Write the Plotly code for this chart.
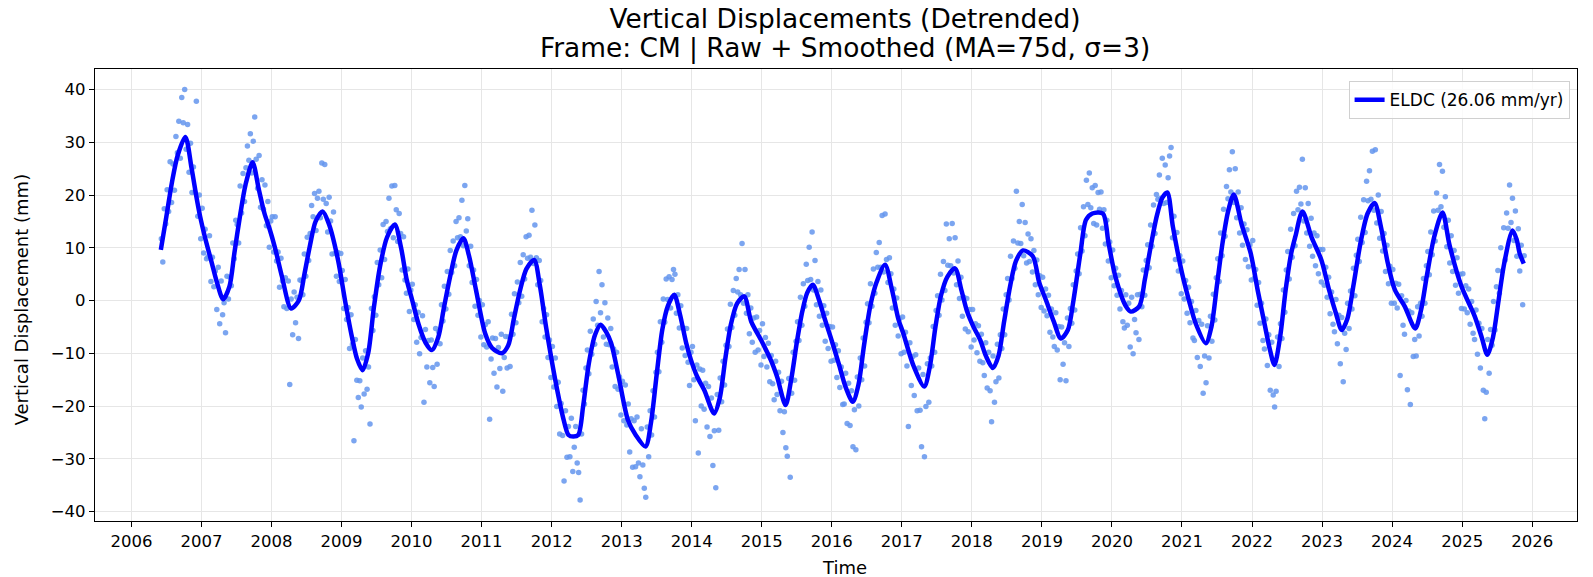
import plotly.graph_objects as go

# ---------------- data ----------------
title_line1 = "Vertical Displacements (Detrended)"
title_line2 = "Frame: CM | Raw + Smoothed (MA=75d, σ=3)"
x_title = "Time"
y_title = "Vertical Displacement (mm)"
series_name = "ELDC (26.06 mm/yr)"
year_ticks = list(range(2006, 2027))
mm_ticks = [-40, -30, -20, -10, 0, 10, 20, 30, 40]

# smoothed curve (decimal year, mm)
smooth_t = [
    2006.42, 2006.50, 2006.58, 2006.66, 2006.77, 2006.86, 2006.93, 2006.98,
    2007.05, 2007.15, 2007.22, 2007.31, 2007.40, 2007.47, 2007.55, 2007.63, 2007.73, 2007.82, 2007.90, 2007.97,
    2008.05, 2008.15, 2008.28, 2008.39, 2008.47, 2008.55, 2008.63, 2008.73, 2008.82, 2008.95,
    2009.05, 2009.15, 2009.22, 2009.30, 2009.38, 2009.46, 2009.55, 2009.65, 2009.76, 2009.85, 2009.93,
    2010.01, 2010.10, 2010.20, 2010.29, 2010.38, 2010.46, 2010.55, 2010.64, 2010.74, 2010.82, 2010.92,
    2011.05, 2011.15, 2011.29, 2011.38, 2011.46, 2011.55, 2011.64, 2011.75, 2011.83, 2011.92,
    2012.00, 2012.08, 2012.16, 2012.24, 2012.31, 2012.38, 2012.45, 2012.53, 2012.62, 2012.70, 2012.78, 2012.85, 2012.95,
    2013.09, 2013.20, 2013.34, 2013.42, 2013.50, 2013.58, 2013.66, 2013.75, 2013.83, 2013.92, 2013.99,
    2014.08, 2014.18, 2014.32, 2014.40, 2014.48, 2014.56, 2014.65, 2014.75, 2014.85, 2014.99,
    2015.13, 2015.22, 2015.34, 2015.42, 2015.50, 2015.58, 2015.65, 2015.73, 2015.82, 2015.90, 2015.98,
    2016.10, 2016.20, 2016.30, 2016.38, 2016.46, 2016.55, 2016.64, 2016.76, 2016.86, 2016.95,
    2017.02, 2017.17, 2017.32, 2017.40, 2017.48, 2017.56, 2017.65, 2017.76, 2017.85, 2017.93,
    2018.02, 2018.12, 2018.20, 2018.30, 2018.38, 2018.46, 2018.55, 2018.63, 2018.73, 2018.87, 2018.96,
    2019.06, 2019.17, 2019.27, 2019.37, 2019.45, 2019.55, 2019.63, 2019.72, 2019.87, 2019.95,
    2020.05, 2020.20, 2020.27, 2020.39, 2020.47, 2020.55, 2020.64, 2020.72, 2020.79, 2020.87,
    2021.00, 2021.10, 2021.20, 2021.34, 2021.42, 2021.50, 2021.58, 2021.66, 2021.74, 2021.85, 2021.98,
    2022.08, 2022.18, 2022.25, 2022.32, 2022.40, 2022.48, 2022.56, 2022.62, 2022.72, 2022.85, 2022.99,
    2023.10, 2023.20, 2023.28, 2023.36, 2023.45, 2023.55, 2023.65, 2023.75, 2023.84, 2023.94,
    2024.04, 2024.18, 2024.33, 2024.41, 2024.50, 2024.60, 2024.72, 2024.82, 2024.99,
    2025.18, 2025.28, 2025.36, 2025.44, 2025.52, 2025.60, 2025.72, 2025.78, 2025.82, 2025.88,
]
smooth_v = [
    9.6, 16, 22.5, 27.5, 31.0, 25, 19.5, 16,
    12, 7, 3.5, 0.25, 2.7, 9, 16, 22, 26.2, 21, 16.5, 13.7,
    10, 4.5, -1.5, 0, 5, 10.5, 15, 16.9, 14.5, 7.7,
    0, -7, -11, -13.2, -10, -1.5, 6.5, 12, 14.4, 10, 4,
    0, -4.5, -8, -9.4, -7, -1.5, 4.5, 9.5, 11.8, 8.5, 2,
    -6.2, -9, -10, -8.5, -3.5, 2, 6, 7.7, 3, -5,
    -11.3, -17, -22, -25.5, -25.8, -25.5, -20, -12, -6.5, -4.6, -6, -8.1, -14,
    -22.7, -25.5, -27.7, -23, -14, -5.5, -1, 1.1, -2.5, -8, -11.3,
    -14.5, -17, -21.4, -18.5, -11, -4.5, -0.5, 0.8, -4, -7.5,
    -11.3, -14.5, -19.8, -15, -8, -2, 1.5, 3.0, 0, -3.5, -6.8,
    -12, -16.5, -19.2, -16, -8.5, -1, 3.5, 6.8, 2, -3.5,
    -6.2, -12.5, -16.3, -12.5, -5, 1, 4.5, 6.1, 2, -2,
    -4.9, -7.5, -10.5, -12.8, -10.5, -4, 3, 7.5, 9.5, 8.4, 3.5,
    0, -4, -7.2, -5.6, 0, 9, 15.3, 16.5, 16.5, 11,
    4.5, -1.1, -2.1, -1.1, 4, 10, 16, 19.5, 20.5, 14,
    5.2, 0, -4.5, -8.1, -5, 3, 11, 17, 20.1, 14.5, 9.0,
    2, -4.5, -9, -12.2, -7, 2, 9, 12.2, 16.9, 12, 7.7,
    2, -2.5, -5.6, -3.5, 3, 11, 16.5, 18.5, 14, 7,
    2.0, -1.1, -5.3, -2, 5, 12, 16.7, 10.5, 2.7,
    -3.0, -7, -10.3, -7, 0, 7, 13.3, 11.5, 9, 7.0,
]

# raw observations, 4 per month (first year starts in June 2006)
raw_2006 = [11.7, 7.3, 17.4, 14.5, 21.0, 16.9, 26.3, 18.6, 25.9, 20.9, 31.1, 28.0, 34.0, 27.0, 38.5, 33.7, 40.0, 28.7, 33.4, 24.3, 29.8, 20.5, 25.3, 20.6, 37.8, 16.0, 20.0, 11.7]
raw_2007 = [17.5, 9.0, 13.5, 7.9, 8.3, 12.3, 3.6, 8.2, 2.6, 5.6, -1.7, 6.3, -4.4, 3.7, -2.7, -0.4, -6.1, 4.6, 0.3, 4.4, 2.8, 10.9, 7.9, 15.2, 14.4, 10.9, 21.7, 16.6, 24.1, 18.8, 25.2, 29.3, 26.6, 31.6, 24.2, 30.2, 34.8, 26.8, 21.3, 27.5, 17.7, 22.9, 17.3, 21.9, 14.2, 18.8, 10.1, 15.1]
raw_2008 = [15.9, 9.2, 15.9, 7.5, 9.2, 2.5, 8.0, 3.7, -1.2, 4.3, -1.5, 3.7, -15.9, 0.3, -6.5, 1.6, -4.2, 0.6, -7.2, 3.9, 3.8, 1.1, 8.8, 4.6, 12.0, 7.6, 12.7, 18.0, 15.9, 20.3, 13.3, 19.4, 20.7, 15.7, 26.1, 19.2, 25.8, 18.4, 13.0, 19.6, 15.1, 8.8, 16.8, 8.9, 4.6, 9.1, 3.6, 8.9]
raw_2009 = [5.7, -1.5, 4.0, -3.6, -1.3, -9.1, -2.7, -8.3, -26.6, -7.4, -15.1, -18.4, -15.2, -20.2, -10.9, -17.7, -9.5, -16.8, -12.6, -23.4, -1.5, -5.7, 0.7, -2.8, 7.2, 3.0, 9.6, 4.3, 14.4, 7.8, 15.0, 13.1, 19.4, 13.6, 21.7, 11.9, 21.8, 17.2, 11.2, 16.5, 12.7, 5.8, 12.1, 3.9, 1.4, 6.0, -2.1, 2.0]
raw_2010 = [3.1, -3.6, -0.8, -7.9, -2.2, -10.1, -7.0, -2.9, -19.3, -5.5, -12.6, -7.6, -15.6, -7.5, -12.7, -16.3, -5.3, -12.1, -5.9, -8.2, -0.8, -3.9, 2.7, -1.6, 5.5, 1.2, 9.5, 5.3, 11.3, 6.6, 15.0, 11.9, 15.7, 12.1, 19.0, 10.4, 21.8, 13.2, 15.5, 6.6, 10.3, 3.4, 5.8, -1.1, 4.0, -2.8, 0.0, -6.9]
raw_2011 = [-0.8, -8.4, -4.6, -8.8, -4.0, -22.5, -11.1, -7.1, -13.8, -7.2, -16.4, -8.9, -12.9, -6.4, -17.2, -10.8, -6.8, -12.8, -6.9, -12.5, -2.6, -6.4, 1.3, -4.2, 3.5, -0.4, 7.2, 0.8, 8.7, 4.1, 12.1, 8.0, 12.4, 8.2, 17.1, 7.0, 14.3, 8.1, 3.0, 7.6, 3.8, -4.0, -1.5, -6.9, -2.7, -10.8, -7.5, -14.6]
raw_2012 = [-8.7, -16.4, -10.9, -20.1, -15.5, -25.3, -19.5, -25.6, -34.2, -20.9, -29.7, -23.9, -29.6, -22.3, -32.4, -27.8, -23.9, -30.8, -32.6, -37.8, -25.3, -17.0, -19.6, -12.8, -9.4, -13.9, -5.8, -10.2, -3.5, -8.3, -0.2, -4.7, 5.5, -2.3, 3.0, -6.9, -0.4, -8.3, -3.3, -8.4, -5.3, -12.6, -9.2, -16.3, -9.8, -16.8, -14.5, -21.7]
raw_2013 = [-15.3, -22.8, -16.0, -23.6, -19.6, -28.7, -22.4, -31.6, -22.8, -31.5, -22.1, -30.8, -33.4, -24.3, -31.2, -35.6, -37.3, -24.0, -29.6, -20.9, -25.5, -17.1, -22.1, -13.6, -9.8, -13.5, -4.0, -7.9, 0.3, -4.1, 4.1, 0.2, 4.5, -1.4, 4.0, 5.9, 5.0, -2.4, 1.1, -5.2, -1.0, -9.0, -5.2, -10.4, -5.3, -11.7, -16.1, -9.8]
raw_2014 = [-8.7, -15.0, -22.8, -12.2, -28.9, -13.0, -20.0, -13.2, -20.6, -15.7, -24.0, -16.3, -25.8, -18.5, -31.3, -24.7, -35.5, -17.8, -24.6, -14.7, -19.2, -11.5, -16.0, -8.5, -5.4, -8.7, -0.7, -5.1, 1.9, -2.8, 4.2, 1.6, 5.9, 1.1, 10.8, -0.5, 5.9, -2.4, 1.1, -6.3, -1.4, -7.9, -3.3, -9.8, -3.1, -9.4, -5.7, -12.2]
raw_2015 = [-4.4, -10.6, -7.0, -12.6, -8.1, -15.4, -10.4, -15.8, -18.8, -11.5, -17.8, -13.6, -20.9, -15.3, -25.0, -21.1, -27.9, -29.5, -14.8, -33.5, -17.6, -9.8, -15.1, -7.7, -4.0, -7.6, 0.6, -4.7, 3.2, -1.1, 6.9, 3.8, 10.1, 4.0, 13.0, 2.0, 7.6, -0.8, 3.6, -3.0, 2.0, -4.7, -1.0, -7.7, -2.4, -9.1, -4.9, -11.5]
raw_2016 = [-5.0, -11.3, -8.4, -14.6, -9.5, -16.5, -12.6, -19.7, -19.6, -13.8, -23.3, -15.7, -23.7, -17.1, -27.7, -20.7, -28.3, -14.5, -20.0, -10.9, -15.0, -7.1, -12.4, -4.1, -0.6, -4.2, 3.2, -1.1, 6.0, 1.4, 9.1, 6.3, 11.0, 6.3, 16.1, 5.4, 16.4, 7.8, 3.4, 8.1, 5.1, -1.4, 2.2, -4.7, 0.5, -6.7, -3.4, -10.1]
raw_2017 = [-3.1, -9.8, -6.0, -12.4, -23.9, -8.0, -16.1, -10.6, -18.0, -10.3, -20.9, -12.8, -20.8, -27.7, -14.0, -29.6, -20.1, -12.0, -19.3, -10.9, -12.4, -4.9, -9.8, -1.9, 0.9, -2.8, 5.0, 0.1, 7.4, 1.9, 14.5, 6.7, 11.7, 6.6, 14.6, 5.2, 11.9, 3.0, 7.5, 0.4, 4.4, -3.0, 0.6, -5.4, 0.4, -5.9, -1.7, -8.8]
raw_2018 = [-1.7, -7.5, -4.4, -9.9, -4.8, -11.5, -6.4, -11.8, -14.2, -8.0, -16.6, -9.8, -17.1, -23.0, -10.5, -19.3, -15.4, -8.3, -14.7, -6.5, -9.1, -1.6, -6.5, 1.1, 4.2, 0.1, 8.4, 4.2, 11.3, 6.1, 20.7, 10.9, 15.0, 10.8, 18.2, 8.5, 14.8, 7.1, 12.6, 7.4, 11.7, 5.4, 9.5, 3.0, 7.7, 1.1, 4.7, -1.3]
raw_2019 = [4.4, -2.0, 2.2, -2.9, 1.0, -6.0, -1.6, -6.9, -8.7, -2.3, -9.4, -4.9, -15.0, -5.0, -12.1, -8.0, -15.2, -3.3, -8.7, -1.5, -4.3, 3.0, -1.8, 5.6, 8.8, 5.1, 13.8, 9.4, 17.8, 12.3, 22.8, 18.2, 24.2, 17.6, 21.4, 14.6, 21.8, 14.3, 20.5, 17.3, 20.6, 13.7, 17.2, 10.7, 15.2, 7.5, 11.1, 4.3]
raw_2020 = [9.6, 2.8, 6.1, 1.0, 4.8, -1.6, 1.9, -4.0, -5.2, 1.1, -4.7, -0.5, -8.8, 0.6, -10.1, -3.6, -6.1, 1.1, -7.4, 1.2, -1.2, 5.8, 1.0, 7.6, 10.6, 6.2, 14.3, 10.3, 18.1, 12.7, 20.1, 19.2, 23.8, 19.4, 27.0, 18.4, 25.7, 18.6, 23.3, 27.4, 29.0, 11.9, 16.0, 7.8, 12.9, 5.6, 8.5, 1.3]
raw_2021 = [7.5, 0.3, 3.8, -2.4, 2.5, -4.2, -0.2, -7.1, -7.6, -1.9, -10.8, -3.8, -12.5, -4.5, -17.6, -10.5, -15.6, -4.8, -10.9, -3.0, -7.7, 1.2, -3.7, 4.3, 7.9, 3.6, 12.8, 8.5, 17.3, 12.2, 21.6, 19.3, 24.8, 20.6, 28.2, 18.6, 25.0, 15.7, 20.6, 12.8, 17.6, 10.5, 14.5, 7.8, 13.4, 6.4, 10.6, 3.9]
raw_2022 = [11.4, 4.2, 5.9, -0.9, 3.4, -4.3, -0.5, -7.6, -9.2, -3.5, -12.3, -6.5, -17.0, -7.9, -17.9, -20.2, -17.2, -6.9, -12.5, -4.4, -7.2, 2.0, -2.2, 5.8, 9.3, 4.1, 13.5, 8.2, 16.5, 10.4, 20.7, 17.2, 21.5, 18.3, 26.8, 15.1, 21.4, 12.8, 18.4, 10.3, 15.6, 8.4, 12.8, 6.6, 12.3, 5.1, 9.7, 3.5]
raw_2023 = [9.7, 2.9, 6.3, 0.6, 4.4, -2.5, 1.6, -4.5, -5.9, 0.2, -8.2, -2.8, -12.0, -3.2, -15.4, -6.2, -9.3, -0.5, -5.3, 1.8, -1.6, 6.1, 0.9, 8.6, 11.6, 7.4, 15.8, 11.0, 19.1, 12.9, 22.6, 18.9, 24.6, 19.2, 28.3, 17.1, 28.6, 14.7, 20.0, 11.8, 16.9, 9.4, 12.7, 5.5, 10.5, 3.2, 6.5, -0.5]
raw_2024 = [5.9, -0.5, 3.3, -1.4, 3.1, -14.2, 0.9, -4.7, -6.4, 0.0, -16.9, -2.0, -19.7, -2.3, -10.6, -7.4, -10.5, -1.2, -6.7, -0.5, -3.0, 4.2, -0.5, 6.6, 9.3, 4.9, 13.0, 8.7, 17.0, 11.3, 20.4, 17.1, 25.8, 17.8, 24.5, 13.9, 19.7, 10.2, 15.2, 7.1, 12.3, 5.5, 9.5, 2.9, 8.1, 1.4, 5.0, -1.5]
raw_2025 = [5.1, -1.6, 2.8, -2.3, 2.2, -4.5, -0.2, -6.2, -7.4, -1.8, -10.2, -4.3, -12.8, -5.3, -17.0, -22.4, -17.4, -7.4, -13.8, -5.5, -8.5, -0.2, -5.6, 2.6, 5.7, 1.4, 10.0, 5.6, 13.8, 7.7, 16.6, 13.7, 21.9, 14.8, 19.4, 11.4, 17.0, 8.4, 13.6, 5.6, 10.5, -0.8, 8.5]

raw_by_year = [
    (2006, raw_2006), (2007, raw_2007), (2008, raw_2008), (2009, raw_2009),
    (2010, raw_2010), (2011, raw_2011), (2012, raw_2012), (2013, raw_2013),
    (2014, raw_2014), (2015, raw_2015), (2016, raw_2016), (2017, raw_2017),
    (2018, raw_2018), (2019, raw_2019), (2020, raw_2020), (2021, raw_2021),
    (2022, raw_2022), (2023, raw_2023), (2024, raw_2024), (2025, raw_2025),
]
SAMPLES_PER_YEAR = 48
FIRST_SLOT_2006 = 20  # series begins in June 2006

raw_t, raw_v = [], []
for yr, vals in raw_by_year:
    first = FIRST_SLOT_2006 if yr == 2006 else 0
    for i, v in enumerate(vals):
        raw_t.append(yr + (first + i + 0.5) / SAMPLES_PER_YEAR)
        raw_v.append(v)

# ---------------- figure ----------------
FONT = "DejaVu Sans, Verdana, sans-serif"
W, H = 1593, 577
ML, MR, MT, MB = 95, 16, 69, 56
PW, PH = W - ML - MR, H - MT - MB

def px_to_paper_x(px):
    return (px - ML) / PW

def px_to_paper_y(py):
    return 1 - (py - MT) / PH

fig = go.Figure()
fig.add_trace(go.Scatter(
    x=raw_t, y=raw_v, mode="markers",
    marker=dict(size=5.5, color="#6495ED", opacity=0.85, line=dict(width=0)),
    showlegend=False, hoverinfo="skip",
))
fig.add_trace(go.Scatter(
    x=smooth_t, y=smooth_v, mode="lines", name=series_name,
    line=dict(color="#0000FF", width=4.5, shape="spline", smoothing=0.8),
))

axis_common = dict(
    showline=True, linecolor="black", linewidth=1.2, mirror=True,
    ticks="outside", ticklen=5, tickwidth=1, tickcolor="black",
    showgrid=True, gridcolor="#e6e6e6", gridwidth=1, zeroline=False,
    automargin=False,
    tickfont=dict(family=FONT, size=16.5, color="black"),
)
fig.update_xaxes(
    **axis_common, range=[2005.48, 2026.64],
    tickmode="array", tickvals=year_ticks, ticktext=[str(y) for y in year_ticks],
)
fig.update_yaxes(
    **axis_common, range=[-41.8, 43.9],
    tickmode="array", tickvals=mm_ticks,
)

label_font = dict(family=FONT, size=18, color="black")
title_font = dict(family=FONT, size=26.4, color="black")
fig.update_layout(
    width=W, height=H,
    margin=dict(l=ML, r=MR, t=MT, b=MB),
    paper_bgcolor="white", plot_bgcolor="white",
    font=dict(family=FONT, color="black"),
    title=dict(
        text=title_line1,
        x=845 / W, xanchor="center", xref="container",
        y=1 - 18.5 / H, yanchor="middle", yref="container",
        font=title_font,
    ),
    annotations=[
        dict(text=title_line2, xref="paper", yref="paper",
             x=px_to_paper_x(845), y=px_to_paper_y(48.5),
             xanchor="center", yanchor="middle", showarrow=False, font=title_font),
        dict(text=x_title, xref="paper", yref="paper",
             x=px_to_paper_x(844), y=px_to_paper_y(567),
             xanchor="center", yanchor="middle", showarrow=False, font=label_font),
        dict(text=y_title, xref="paper", yref="paper", textangle=-90,
             x=px_to_paper_x(20.5), y=px_to_paper_y(300),
             xanchor="center", yanchor="middle", showarrow=False, font=label_font),
    ],
    legend=dict(
        x=0.995, y=0.973, xanchor="right", yanchor="top",
        bgcolor="rgba(255,255,255,0.8)", bordercolor="#d0d0d0", borderwidth=1,
        font=dict(family=FONT, size=17, color="black"),
    ),
)
fig.write_html(
    "out.html",
    config={"displayModeBar": False},
    post_script="document.body.style.margin='0';document.body.style.overflow='hidden';",
)
